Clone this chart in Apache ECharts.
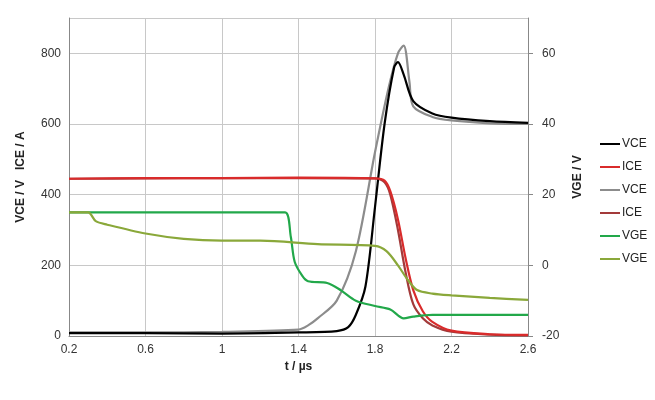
<!DOCTYPE html>
<html><head><meta charset="utf-8">
<script src="https://cdn.jsdelivr.net/npm/echarts@6/dist/echarts.min.js"></script>
</head><body style="margin:0">
<div id="c" style="width:655px;height:400px"></div>
<script>
// [t (µs), value]
var vce1 = [[0.2,8],[0.6,8],[1.0,7],[1.4,10],[1.6,14],[1.66,25],[1.7,60],[1.75,140],[1.8,365],[1.85,600],[1.9,760],[1.92,775],[1.95,740],[2.0,665],[2.1,630],[2.2,618],[2.4,608],[2.6,603]];
var ice1 = [[0.2,445],[0.6,447],[1.0,447],[1.4,448],[1.8,446],[1.85,440],[1.88,410],[1.92,330],[1.96,220],[2.0,130],[2.05,70],[2.1,40],[2.2,15],[2.4,5],[2.6,3]];
var vce2 = [[0.2,10],[0.6,10],[1.0,12],[1.4,18],[1.45,30],[1.5,50],[1.6,100],[1.7,240],[1.8,520],[1.87,700],[1.92,800],[1.95,822],[1.98,720],[2.0,650],[2.1,620],[2.2,610],[2.4,602],[2.6,600]];
var ice2 = [[0.2,445],[0.6,446],[1.0,447],[1.4,447],[1.8,446],[1.85,435],[1.88,400],[1.92,300],[1.96,180],[2.0,90],[2.05,50],[2.1,30],[2.2,12],[2.4,4],[2.6,2]];
var vge1 = [[0.2,15],[0.6,15],[1.0,15],[1.2,15],[1.33,15],[1.36,8],[1.38,1],[1.42,-3],[1.45,-4.5],[1.55,-5],[1.62,-7],[1.7,-10],[1.8,-11.5],[1.88,-12.5],[1.95,-15],[2.0,-14.5],[2.1,-14],[2.6,-14]];
var vge2 = [[0.2,15],[0.3,15],[0.34,12.5],[0.4,11.5],[0.6,9],[0.8,7.5],[1.0,7],[1.2,7],[1.5,6],[1.8,5.5],[1.86,4],[1.92,0],[1.97,-4],[2.02,-7],[2.1,-8],[2.2,-8.5],[2.4,-9.2],[2.6,-9.8]];

var names = ['VCE','ICE','VCE ','ICE ','VGE','VGE '];
var colors = ['#000000','#d92b2b','#8c8c8c','#a33a3a','#22a84a','#8aa83a'];
var datas = [vce1, ice1, vce2, ice2, vge1, vge2];
var yIdx = [0,0,0,0,1,1];

var series = datas.map(function(d, i){
  return {name: names[i], type:'line', yAxisIndex:yIdx[i], data:d,
    showSymbol:false, smooth:0.3, lineStyle:{width:2.2, color:colors[i]}, itemStyle:{color:colors[i]}};
});
series[2].z = 1; series[3].z = 1;

var chart = echarts.init(document.getElementById('c'));
var axisText = {color:'#333', fontSize:12, fontFamily:'Arial'};
var nameText = {fontWeight:'bold', fontSize:12, color:'#222'};
chart.setOption({
  animation:false,
  grid:{left:69, right:127, top:18, bottom:64},
  legend:{orient:'vertical', left:595, top:133, itemGap:11, itemWidth:20, itemHeight:2,
    icon:'rect', textStyle:{fontSize:12, color:'#222', padding:[0,0,0,-3]},
    data:series.map(function(s){return s.name;})},
  xAxis:{type:'value', min:0.2, max:2.6, interval:0.4, name:'t / µs', nameLocation:'middle', nameGap:24,
    nameTextStyle:nameText,
    axisLabel:Object.assign({formatter:function(v){return +v.toFixed(1);}}, axisText),
    axisLine:{lineStyle:{color:'#888'}}, axisTick:{show:false},
    splitLine:{lineStyle:{color:'#c8c8c8'}}},
  yAxis:[
    {type:'value', min:0, max:900, interval:200, name:'VCE / V   ICE / A', nameLocation:'middle', nameGap:42,
      nameTextStyle:nameText,
      axisLabel:Object.assign({showMaxLabel:false}, axisText), axisLine:{show:true, lineStyle:{color:'#888'}}, axisTick:{show:false},
      splitLine:{lineStyle:{color:'#c8c8c8'}}},
    {type:'value', min:-20, max:70, interval:20, name:'VGE / V', nameLocation:'middle', nameGap:44,
      nameRotate:90, nameTextStyle:nameText,
      axisLabel:Object.assign({showMaxLabel:false, margin:14}, axisText), axisLine:{show:true, lineStyle:{color:'#888'}},
      axisTick:{show:true, length:5, lineStyle:{color:'#888'}},
      splitLine:{show:false}}
  ],
  series:series
});
</script></body></html>
